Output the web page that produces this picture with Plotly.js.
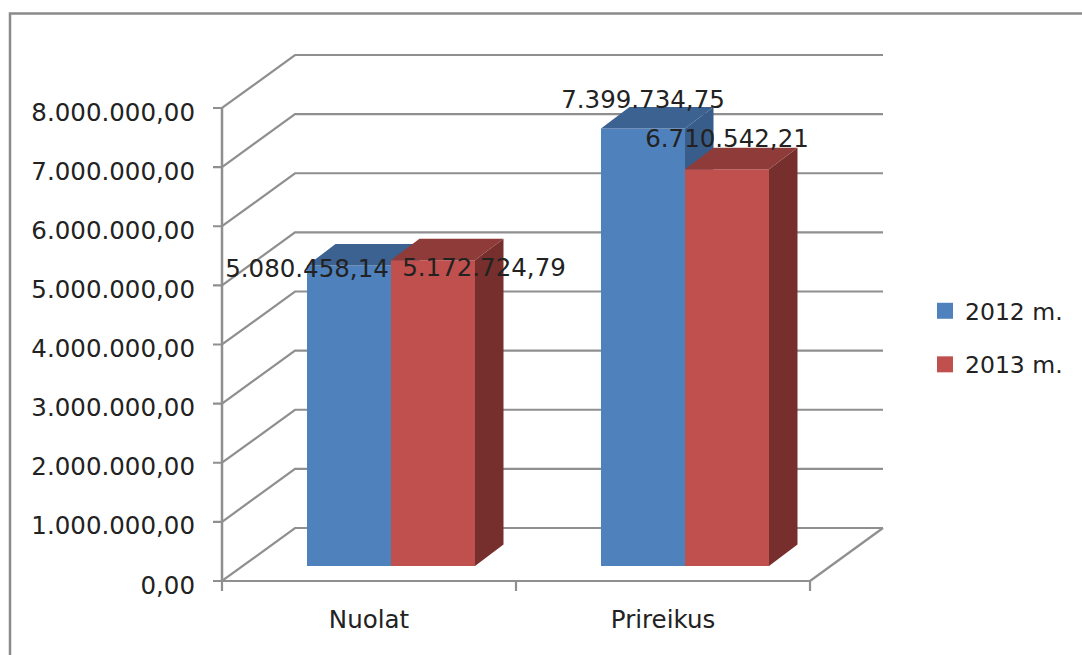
<!DOCTYPE html>
<html>
<head>
<meta charset="utf-8">
<script src="https://cdn.plot.ly/plotly-3.0.1.min.js"></script>
<style>html,body{margin:0;padding:0;background:#fff;overflow:hidden}</style>
</head>
<body>
<div id="chart" style="width:1082px;height:655px"></div>
<script>
const categories = ["Nuolat", "Prireikus"];
const seriesNames = ["2012 m.", "2013 m."];
const values2012 = [5080458.14, 7399734.75];
const values2013 = [5172724.79, 6710542.21];
const yTickValues = [0, 1000000, 2000000, 3000000, 4000000, 5000000, 6000000, 7000000, 8000000];
const yTickLabels = ["0,00", "1.000.000,00", "2.000.000,00", "3.000.000,00", "4.000.000,00", "5.000.000,00", "6.000.000,00", "7.000.000,00", "8.000.000,00"];
const dataLabels2012 = ["5.080.458,14", "7.399.734,75"];
const dataLabels2013 = ["5.172.724,79", "6.710.542,21"];

// Layout: plot frame in pixels and the scale of the oblique projection.
// The plot box reaches past both axes so the axis lines and ticks are not clipped.
const W = 1082, H = 655, ML = 210, MT = 50, MB = 61, MR = 184;
const PAD_L = 12, PAD_B = 13;
const PW = W - ML - MR, PH = H - MT - MB;
const PX_PER_CAT = 294, PX_PER_UNIT = 59.125 / 1e6;
const dx = p => p / PX_PER_CAT, dy = p => p / PX_PER_UNIT;
const xRange = [-dx(PAD_L), dx(PW - PAD_L)], yRange = [-dy(PAD_B), dy(PH - PAD_B)];

const WALL = {x: dx(73), y: dy(53)};
const DEPTH = {x: dx(28.5), y: dy(21.5)};
const BASE = dy(15);
const GROUP_SHIFT = dx(22);
const BAR_W = dx(84);
const TICK_Y = dx(9), TICK_X = dy(10);
const GRID = '#8f8f8f', TXT = '#222222';
const FONT = '"DejaVu Sans", sans-serif';
const FS = 24.5;
const colors = [
  {front: '#4F81BD', top: '#3C6291', side: '#385D8A'},
  {front: '#C0504D', top: '#8E3B39', side: '#772F2D'}
];
const pxPaperX = p => (p - ML) / PW, pxPaperY = p => (H - MB - p) / PH;

const traces = [];
const lineTrace = (x, y) => ({type: 'scatter', mode: 'lines', x, y,
  line: {color: GRID, width: 2.2, simplify: false},
  hoverinfo: 'skip', showlegend: false, xaxis: 'x', yaxis: 'y'});

// walls and floor, with the value-axis tick marks
const wx = [], wy = [];
yTickValues.forEach(v => {
  wx.push(-TICK_Y, 0, WALL.x, 2 + WALL.x, null);
  wy.push(v, v, v + WALL.y, v + WALL.y, null);
});
wx.push(2, 2 + WALL.x);
wy.push(0, WALL.y);
traces.push(lineTrace(wx, wy));

// category axis line and its tick marks
const cx = [0, 2, null], cy = [0, 0, null];
categories.concat(['']).forEach((c, i) => {
  cx.push(i, i, null);
  cy.push(0, -TICK_X, null);
});
traces.push(lineTrace(cx, cy));

// legend entries
seriesNames.forEach((n, s) => traces.push({type: 'scatter', mode: 'markers', name: n, x: [null], y: [null],
  legendgroup: n, marker: {symbol: 'square', size: 16, color: colors[s].front}, xaxis: 'x', yaxis: 'y'}));

// one layer per series so that the nearer faces paint over the earlier series
[values2012, values2013].forEach((vals, s) => {
  const ax = s === 0 ? 'x2' : 'x3', ay = s === 0 ? 'y2' : 'y3';
  const left = categories.map((c, i) => i + 0.5 + GROUP_SHIFT + (s - 1) * BAR_W);
  traces.push({type: 'bar', x: left.map(l => l + BAR_W / 2), y: vals, base: BASE, width: BAR_W,
    marker: {color: colors[s].front, line: {width: 0}}, showlegend: false, hoverinfo: 'skip',
    xaxis: ax, yaxis: ay});
  const tx = [], ty = [], sx = [], sy = [];
  vals.forEach((v, i) => {
    const l = left[i], r = l + BAR_W, t = BASE + v;
    tx.push(l, r, r + DEPTH.x, l + DEPTH.x, l, null);
    ty.push(t, t, t + DEPTH.y, t + DEPTH.y, t, null);
    sx.push(r, r + DEPTH.x, r + DEPTH.x, r, r, null);
    sy.push(t, t + DEPTH.y, BASE + DEPTH.y, BASE, t, null);
  });
  traces.push({type: 'scatter', mode: 'lines', x: sx, y: sy, fill: 'toself', fillcolor: colors[s].side,
    line: {width: 0, color: colors[s].side}, showlegend: false, hoverinfo: 'skip', xaxis: ax, yaxis: ay});
  traces.push({type: 'scatter', mode: 'lines', x: tx, y: ty, fill: 'toself', fillcolor: colors[s].top,
    line: {width: 0, color: colors[s].top}, showlegend: false, hoverinfo: 'skip', xaxis: ax, yaxis: ay});
});

// data labels (hand-placed in the original, hence the pixel nudges: [right, up])
const labelNudge = [[[-42, -5], [0, 27]], [[51, -10], [0, 28]]];
[values2012, values2013].forEach((vals, s) => {
  const texts = s === 0 ? dataLabels2012 : dataLabels2013;
  traces.push({type: 'scatter', mode: 'text',
    x: vals.map((v, i) => i + 0.5 + GROUP_SHIFT + (s - 0.5) * BAR_W + dx(labelNudge[s][i][0])),
    y: vals.map((v, i) => BASE + v + dy(labelNudge[s][i][1])),
    text: texts, textposition: 'middle center', textfont: {family: FONT, size: FS, color: TXT},
    showlegend: false, hoverinfo: 'skip', cliponaxis: false, xaxis: 'x3', yaxis: 'y3'});
});

const hidden = over => ({overlaying: over, visible: false, fixedrange: true});
const layout = {
  width: W, height: H,
  margin: {l: ML, r: MR, t: MT, b: MB, pad: 0},
  paper_bgcolor: '#fff', plot_bgcolor: 'rgba(0,0,0,0)',
  hovermode: false,
  font: {family: FONT, size: FS, color: TXT},
  xaxis: {range: xRange, showgrid: false, zeroline: false, showline: false,
    tickmode: 'array', tickvals: [0.5, 1.5], ticktext: categories, ticks: '',
    ticklabelstandoff: 8, tickfont: {family: FONT, size: FS, color: TXT}},
  yaxis: {range: yRange, showgrid: false, zeroline: false, showline: false,
    tickmode: 'array', tickvals: yTickValues, ticktext: yTickLabels,
    ticks: '', ticklabelstandoff: 14, ticklabelshift: 4,
    tickfont: {family: FONT, size: FS, color: TXT}},
  xaxis2: Object.assign({range: xRange, anchor: 'y2'}, hidden('x')),
  yaxis2: Object.assign({range: yRange, anchor: 'x2'}, hidden('y')),
  xaxis3: Object.assign({range: xRange, anchor: 'y3'}, hidden('x')),
  yaxis3: Object.assign({range: yRange, anchor: 'x3'}, hidden('y')),
  legend: {x: pxPaperX(925), y: pxPaperY(338), xanchor: 'left', yanchor: 'middle',
    traceorder: 'grouped', tracegroupgap: 20, bgcolor: 'rgba(0,0,0,0)', borderwidth: 0,
    font: {family: FONT, size: 23.5, color: TXT}, itemclick: false, itemdoubleclick: false},
  shapes: [
    {type: 'line', xref: 'x', yref: 'y', layer: 'above', x0: 0, x1: 0,
      y0: yTickValues[0], y1: yTickValues[yTickValues.length - 1],
      line: {color: GRID, width: 2.5}},
    {type: 'path', xref: 'paper', yref: 'paper', layer: 'below',
      path: `M ${pxPaperX(10)} ${pxPaperY(656)} L ${pxPaperX(10)} ${pxPaperY(13.5)} L ${pxPaperX(1083)} ${pxPaperY(13.5)}`,
      line: {color: '#8a8a8a', width: 2.5}}
  ]
};
Plotly.newPlot('chart', traces, layout, {displayModeBar: false});
</script>
</body>
</html>
